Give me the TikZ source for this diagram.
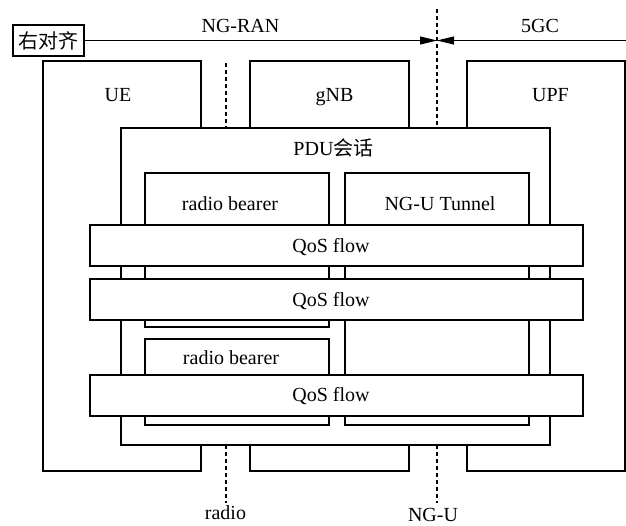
\documentclass[tikz,border=0pt]{standalone}
\usepackage{fontspec}
\setmainfont{Liberation Serif}
\newfontfamily\cjk{Noto Sans CJK SC}
\usetikzlibrary{arrows.meta,calc}
\begin{document}
\begin{tikzpicture}[x=1pt,y=-1pt,
  box/.style={draw,fill=white,line width=1.3pt,anchor=north west,inner sep=0pt,outer sep=0pt},
  txt/.style={font=\fontsize{20}{24}\selectfont,inner sep=0pt,anchor=base},
  dsh/.style={line width=1.1pt,dash pattern=on 4pt off 3pt},
  tip/.style={line width=0.9pt,-{Triangle[length=17pt,width=8pt]}}]
\useasboundingbox (0,0) rectangle (626,525);
% outer entities
\node[box,minimum width=158pt,minimum height=410pt] (ue) at (43,61) {};
\node[box,minimum width=159pt,minimum height=410pt] (gnb) at (250,61) {};
\node[box,minimum width=158pt,minimum height=410pt] (upf) at (467,61) {};
\node[txt] (uet) at (118,101) {UE};
\node[txt] (gnbt) at (334.5,101) {gNB};
\node[txt] (upft) at (550.5,101) {UPF};
% top interface line
\node[draw,line width=2pt,minimum width=71pt,minimum height=31pt,inner sep=0pt,font={\cjk\fontsize{20}{24}\selectfont}] (tag) at (48.5,40.5) {右对齐};
\coordinate (meet) at (437,40.5);
\coordinate (rend) at (626,40.5);
\draw[tip] (tag.east) -- (meet);
\draw[tip] (rend) -- (meet);
\node[txt] (ngran) at (240.5,32) {NG-RAN};
\node[txt] (fgc) at (540,32.5) {5GC};
% PDU session
\node[box,minimum width=429pt,minimum height=317pt] (pdu) at (121,128) {};
\node[txt] (pdut) at (333.5,155) {PDU{\cjk 会话}};
\node[box,minimum width=184pt,minimum height=154pt] (rb1) at (145,173) {};
\node[box,minimum width=184pt,minimum height=252pt] (tun) at (345,173) {};
\node[box,minimum width=184pt,minimum height=86pt] (rb2) at (145,339) {};
\node[txt] (rb1t) at (230,210) {radio bearer};
\node[txt] (tunt) at (440,210) {NG-U Tunnel};
\node[txt] (rb2t) at (231,364) {radio bearer};
% QoS flows
\node[box,minimum width=493pt,minimum height=41pt] (q1) at (90,225) {};
\node[box,minimum width=493pt,minimum height=41pt] (q2) at (90,279) {};
\node[box,minimum width=493pt,minimum height=41pt] (q3) at (90,375) {};
\node[txt] (q1t) at (331,252) {QoS flow};
\node[txt] (q2t) at (331,306) {QoS flow};
\node[txt] (q3t) at (331,401.5) {QoS flow};
% reference points
\coordinate (d1top) at (226,63);
\coordinate (d2top) at (437,9);
\coordinate (d1bot) at (226,503);
\coordinate (d2bot) at (437,503);
\draw[dsh] (d1top) -- (d1top |- pdu.north);
\draw[dsh] (d2top) -- (d2top |- pdu.north);
\draw[dsh] (d1bot |- pdu.south) -- (d1bot);
\draw[dsh] (d2bot |- pdu.south) -- (d2bot);
\node[txt] (radiot) at (225.5,519.5) {radio};
\node[txt] (ngut) at (433,521) {NG-U};
\end{tikzpicture}
\end{document}
